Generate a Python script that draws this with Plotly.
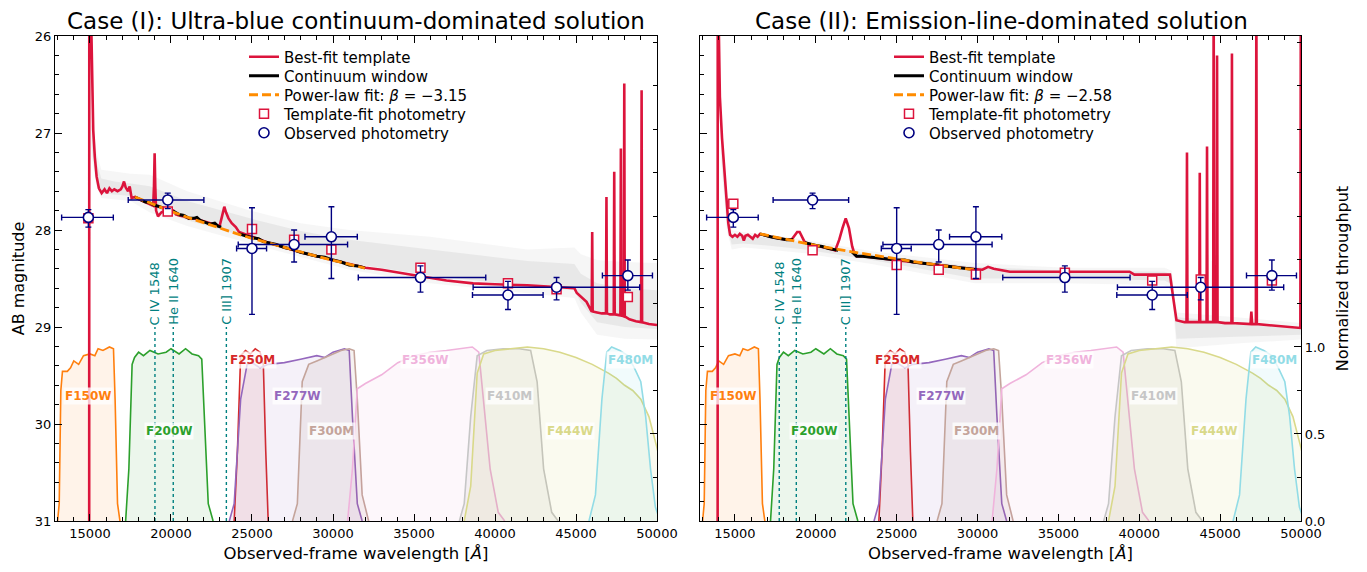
import plotly.graph_objects as go

FONT = "DejaVu Sans"
RED = "#dc143c"
NAVY = "#000080"
ORANGE = "#ff8c00"
TEAL = "#008080"

# ---------------- data ----------------
filters = ["F150W", "F200W", "F250M", "F277W", "F300M", "F356W", "F410M", "F444W", "F480M"]
filter_colors = ["#ff7f0e", "#2ca02c", "#d62728", "#9467bd", "#c4a49b",
                 "#f0b3dc", "#c6c6c6", "#d9d98a", "#92dce6"]
filter_fills = ["rgba(255,127,14,0.09)", "rgba(44,160,44,0.09)", "rgba(214,39,40,0.09)",
                "rgba(148,103,189,0.09)", "rgba(140,86,75,0.08)", "rgba(227,119,194,0.06)",
                "rgba(127,127,127,0.07)", "rgba(188,189,34,0.07)", "rgba(23,190,207,0.06)"]

f150w_wl = [13000, 13100, 13200, 13300, 13600, 13800, 14000, 14300, 14600, 15000, 15300, 15500, 15800, 16200, 16450, 16550, 16700, 16850]
f150w_t = [0.0, 0.1, 0.75, 0.86, 0.86, 0.88, 0.92, 0.90, 0.95, 0.96, 0.95, 0.99, 0.98, 1.0, 0.99, 0.7, 0.1, 0.0]
f200w_wl = [17200, 17400, 17600, 17750, 18000, 18300, 18700, 19200, 19700, 20000, 20500, 20900, 21300, 21700, 21900, 22050, 22300, 22600]
f200w_t = [0.0, 0.3, 0.9, 0.94, 0.97, 0.95, 0.98, 0.96, 0.97, 0.99, 0.96, 0.99, 0.96, 0.95, 0.93, 0.6, 0.1, 0.0]
f250m_wl = [23900, 24100, 24300, 24600, 24900, 25200, 25500, 25700, 25850, 26000]
f250m_t = [0.0, 0.4, 0.95, 0.98, 0.96, 0.99, 0.97, 0.9, 0.4, 0.0]
f277w_wl = [23600, 23900, 24300, 24700, 25000, 25500, 26000, 27000, 28000, 29000, 29500, 30000, 30700, 31000, 31200, 31500, 31800]
f277w_t = [0.0, 0.1, 0.7, 0.9, 0.91, 0.88, 0.9, 0.91, 0.93, 0.95, 0.94, 0.97, 0.99, 0.98, 0.6, 0.1, 0.0]
f300m_wl = [27500, 27800, 28100, 28500, 29000, 30000, 30500, 31000, 31300, 31500, 31800, 32200]
f300m_t = [0.0, 0.1, 0.8, 0.9, 0.92, 0.96, 0.98, 0.99, 0.98, 0.7, 0.15, 0.0]
f356w_wl = [30900, 31200, 31500, 32000, 33000, 34000, 35000, 36000, 37000, 38000, 38600, 39000, 39300, 39700, 40200, 40600]
f356w_t = [0.0, 0.3, 0.76, 0.79, 0.84, 0.91, 0.95, 0.97, 0.98, 0.99, 1.0, 0.97, 0.7, 0.3, 0.05, 0.0]
f410m_wl = [37800, 38100, 38500, 38900, 39500, 40500, 41500, 42200, 42600, 43000, 43500, 43900]
f410m_t = [0.0, 0.1, 0.6, 0.95, 0.98, 0.99, 0.99, 0.98, 0.8, 0.3, 0.05, 0.0]
f444w_wl = [38100, 38500, 38900, 39300, 40000, 41000, 42000, 43000, 44000, 45000, 46000, 47000, 47500, 48000, 48500, 49000, 49500, 50000, 50500, 51000]
f444w_t = [0.0, 0.2, 0.85, 0.96, 0.98, 0.99, 1.0, 0.99, 0.97, 0.94, 0.9, 0.85, 0.82, 0.78, 0.75, 0.7, 0.6, 0.42, 0.2, 0.0]
f480m_wl = [45800, 46200, 46600, 46900, 47200, 47700, 48200, 48600, 49000, 49300, 49600, 49900, 50200]
f480m_t = [0.0, 0.15, 0.7, 0.97, 1.0, 0.98, 0.95, 0.88, 0.8, 0.6, 0.3, 0.08, 0.0]
filter_wl = [f150w_wl, f200w_wl, f250m_wl, f277w_wl, f300m_wl, f356w_wl, f410m_wl, f444w_wl, f480m_wl]
filter_t = [f150w_t, f200w_t, f250m_t, f277w_t, f300m_t, f356w_t, f410m_t, f444w_t, f480m_t]

label_wl = [14880, 19870, 25060, 27770, 29930, 35670, 40910, 44620, 48380]
label_t = [0.72, 0.52, 0.925, 0.72, 0.52, 0.925, 0.72, 0.52, 0.925]

# emission lines (rest-frame) and redshifts of the two solutions
line_names = ["C IV 1548", "He II 1640", "C III] 1907"]
line_rest = [1548, 1640, 1907]
z_case = [11.28, 10.46]

# photometry (shared observed)
phot_wl = [14900, 19800, 25000, 27600, 29900, 35400, 40800, 43800, 48200]
phot_wl_lo = [13250, 17360, 24050, 24150, 28270, 31560, 38610, 38650, 46630]
phot_wl_hi = [16440, 22030, 25900, 30900, 31500, 39430, 42970, 48930, 49720]
obs_mag = [27.87, 27.69, 28.19, 28.15, 28.07, 28.49, 28.67, 28.59, 28.47]
obs_bright = [27.79, 27.62, 27.77, 28.00, 27.76, 28.37, 28.53, 28.49, 28.31]
obs_faint = [27.97, 27.78, 28.87, 28.33, 28.50, 28.64, 28.82, 28.72, 28.62]

tmpl_mag_1 = [27.88, 27.81, 27.99, 28.10, 28.20, 28.39, 28.55, 28.61, 28.69]
tmpl_mag_2 = [27.73, 28.21, 28.36, 28.41, 28.46, 28.44, 28.52, 28.51, 28.52]
tmpl_err = 0.04

beta = ["\u22123.15", "\u22122.58"]

# Case I best-fit template
spec1_wl = [14950, 14956, 15080, 15150, 15200, 15300, 15410, 15550, 15720, 15900, 16050, 16200, 16350, 16500,
            16700, 16900, 17000, 17100, 17200, 17350, 17450, 17570, 17780, 18100, 18400, 18700, 18900, 18950,
            18990, 19030, 19080, 19200, 19400, 19600, 19900, 20150, 20300, 20500, 20800, 21100, 21400, 21800,
            22200, 22600, 23000, 23150, 23290, 23400, 23550, 23750, 24000, 24200, 25000, 26000, 27000, 28000,
            29000, 30000, 31000, 32000, 33000, 34000, 35500, 37000, 38650, 40000, 42000, 44000, 44900, 45050,
            45400, 45650, 45900, 45970, 46000, 46030, 46300, 46600, 46850, 46880, 46910, 47100, 47330, 47360,
            47390, 47600, 47740, 47770, 47800, 47950, 47980, 48010, 48300, 48700, 49020, 49050, 49080, 49500, 50000]
spec1_mag = [32.0, 25.5, 25.9, 26.6, 26.97, 27.25, 27.45, 27.57, 27.62, 27.58, 27.62, 27.57, 27.60, 27.58,
             27.60, 27.58, 27.55, 27.50, 27.56, 27.60, 27.55, 27.67, 27.66, 27.69, 27.71, 27.73, 27.75, 27.55,
             27.21, 27.55, 27.80, 27.86, 27.82, 27.80, 27.82, 27.80, 27.84, 27.85, 27.86, 27.88, 27.88, 27.90,
             27.92, 27.94, 27.96, 27.86, 27.76, 27.82, 27.88, 27.93, 27.97, 28.02, 28.07, 28.13, 28.18, 28.23,
             28.27, 28.31, 28.35, 28.39, 28.41, 28.44, 28.48, 28.52, 28.55, 28.56, 28.57, 28.59, 28.60, 28.65,
             28.70, 28.74, 28.82, 28.84, 28.02, 28.84, 28.85, 28.86, 28.86, 27.66, 28.86, 28.87, 28.87, 27.40,
             28.87, 28.88, 28.88, 27.16, 28.88, 28.89, 26.49, 28.89, 28.92, 28.94, 28.95, 26.56, 28.95, 28.97, 28.98]

# Case II best-fit template
spec2_wl = [13930, 13936, 13990, 14070, 14200, 14380, 14590, 14700, 14850, 15000, 15150, 15300, 15450, 15550,
            15650, 15800, 15950, 16100, 16250, 16400, 16550, 16900, 17200, 17500, 17800, 18200, 18500, 18700,
            18850, 19000, 19150, 19330, 19700, 20000, 20400, 20800, 21200, 21450, 21650, 21850, 22050, 22250,
            22400, 22520, 22900, 23450, 24000, 25000, 26000, 27000, 28000, 29000, 29940, 30300, 30650, 31000,
            32000, 33000, 35000, 37000, 39400, 39700, 41900, 42100, 42300, 42800, 42920, 42950, 42980, 43400,
            43710, 43740, 43770, 44160, 44190, 44220, 44570, 44600, 44630, 44780, 44810, 44840, 45300, 45700,
            45730, 45760, 46500, 46880, 46930, 46980, 47210, 47240, 47270, 48000, 49000, 49960, 49990, 50020]
spec2_mag = [32.0, 25.5, 25.8, 26.63, 27.05, 27.48, 27.93, 28.05, 28.07, 28.05, 28.07, 28.04, 28.06, 28.11,
             28.06, 28.05, 28.07, 28.09, 28.05, 28.07, 28.04, 28.06, 28.07, 28.08, 28.09, 28.10, 28.10, 28.06,
             28.02, 28.02, 28.07, 28.13, 28.15, 28.16, 28.17, 28.19, 28.21, 28.10, 27.98, 27.88, 27.98, 28.17,
             28.25, 28.27, 28.27, 28.28, 28.29, 28.31, 28.33, 28.35, 28.37, 28.39, 28.41, 28.41, 28.38, 28.40,
             28.43, 28.43, 28.43, 28.43, 28.43, 28.46, 28.46, 28.70, 28.93, 28.95, 28.95, 27.20, 28.95, 28.95,
             28.95, 27.41, 28.95, 28.95, 27.14, 28.95, 28.95, 25.5, 28.95, 28.95, 26.20, 28.95, 28.96, 28.96,
             26.18, 28.96, 28.97, 28.97, 28.84, 28.97, 28.97, 25.5, 28.97, 28.98, 29.00, 29.01, 25.5, 29.01]

# continuum windows (None = masked line region)
cont1_wl = [17780, 18100, 18400, 18700, 19000, 19300, 19600, 19900, 20200, 20500, 20800, 21100, 21400, 21600,
            21800, 22100, 22400, 22700, 22900, 23100, None, 24200, 24600, 25000, 25400, 25700, 26000, 26500,
            27000, 27500, 28000, 28500, 29000, 29500, 30000, 30500, 31000, 31500, 31970]
cont1_mag = [27.66, 27.69, 27.71, 27.72, 27.745, 27.76, 27.78, 27.80, 27.81, 27.84, 27.85, 27.88, 27.88, 27.87,
             27.90, 27.92, 27.94, 27.93, 27.96, 27.97, None, 28.04, 28.06, 28.08, 28.09, 28.12, 28.13, 28.15,
             28.18, 28.20, 28.23, 28.25, 28.27, 28.28, 28.31, 28.33, 28.36, 28.37, 28.39]
cont2_wl = [16550, 16900, 17200, 17500, 17800, 18200, 18590, None, 19330, 19700, 20000, 20400, 20800, 21380,
            None, 22210, 22400, 22520, 22900, 23450, 24000, 24500, 25000, 25500, 26000, 26500, 27000, 27500,
            28000, 28500, 29000, 29500, 29940]
cont2_mag = [28.04, 28.06, 28.07, 28.08, 28.09, 28.10, 28.10, None, 28.13, 28.15, 28.16, 28.17, 28.19, 28.21,
             None, 28.22, 28.25, 28.27, 28.27, 28.28, 28.29, 28.30, 28.31, 28.31, 28.33, 28.34, 28.35, 28.36,
             28.37, 28.38, 28.39, 28.40, 28.41]

# power-law fits
pl1_wl = [17780, 19000, 20000, 21000, 22000, 23000, 24000, 25000, 26000, 27000, 28000, 29000, 30000, 31000, 31970]
pl1_mag = [27.66, 27.743, 27.807, 27.868, 27.926, 27.981, 28.035, 28.086, 28.134, 28.182, 28.227, 28.271, 28.313, 28.354, 28.393]
pl2_wl = [16550, 18000, 20000, 22000, 24000, 26000, 28000, 29940]
pl2_mag = [28.04, 28.093, 28.159, 28.219, 28.274, 28.324, 28.371, 28.413]

# grey posterior fan (outer / inner envelopes)
fan1_wl = [15100, 15400, 15700, 16500, 17500, 18700, 21000, 24870, 28000, 31000, 36000, 42000, 44900, 45300, 46300, 48000, 50000]
fan1_out_b = [26.8, 27.2, 27.38, 27.40, 27.42, 27.43, 27.60, 27.80, 27.93, 28.00, 28.07, 28.20, 28.18, 28.25, 28.31, 28.33, 28.34]
fan1_out_f = [27.25, 27.55, 27.67, 27.68, 27.70, 27.82, 27.96, 28.14, 28.28, 28.41, 28.55, 28.65, 28.70, 28.85, 29.08, 29.12, 29.13]
fan1_in_b = [26.9, 27.3, 27.47, 27.50, 27.52, 27.55, 27.70, 27.88, 28.01, 28.10, 28.20, 28.32, 28.35, 28.45, 28.55, 28.60, 28.62]
fan1_in_f = [27.15, 27.5, 27.62, 27.63, 27.65, 27.75, 27.90, 28.08, 28.22, 28.34, 28.47, 28.58, 28.62, 28.75, 28.95, 29.0, 29.02]
fan2_wl = [14150, 14500, 14800, 15500, 17000, 19330, 23450, 29850, 35460, 41570, 42000, 42300, 46000, 50000]
fan2_out_b = [26.9, 27.7, 28.0, 28.02, 28.05, 28.10, 28.22, 28.34, 28.39, 28.39, 28.42, 28.85, 28.90, 28.96]
fan2_out_f = [27.3, 28.0, 28.2, 28.18, 28.20, 28.24, 28.35, 28.55, 28.55, 28.57, 28.62, 29.22, 29.17, 29.13]
fan2_in_b = [27.0, 27.8, 28.05, 28.05, 28.08, 28.13, 28.25, 28.38, 28.42, 28.43, 28.46, 28.90, 28.95, 29.0]
fan2_in_f = [27.2, 27.95, 28.15, 28.14, 28.16, 28.2, 28.31, 28.5, 28.5, 28.52, 28.56, 29.12, 29.1, 29.08]

titles = ["Case (I): Ultra-blue continuum-dominated solution", "Case (II): Emission-line-dominated solution"]

# ---------------- figure ----------------
W, H = 1367, 572
OFF = 8  # page body margin compensation (px)


def px(xp):
    return (xp - OFF) / W


def py(yp):
    return 1 - (yp - OFF) / H


fig = go.Figure()

legend_rows = [57, 76, 95, 114, 133]
legend_text_x = [284, 929]

panels = [
    dict(x="x", thr="y", mag="y3", spec=(spec1_wl, spec1_mag), cont=(cont1_wl, cont1_mag),
         pl=(pl1_wl, pl1_mag), fan=(fan1_wl, fan1_out_b, fan1_out_f, fan1_in_b, fan1_in_f), tmpl=tmpl_mag_1,
         z=z_case[0], beta=beta[0]),
    dict(x="x2", thr="y2", mag="y4", spec=(spec2_wl, spec2_mag), cont=(cont2_wl, cont2_mag),
         pl=(pl2_wl, pl2_mag), fan=(fan2_wl, fan2_out_b, fan2_out_f, fan2_in_b, fan2_in_f), tmpl=tmpl_mag_2,
         z=z_case[1], beta=beta[1]),
]

legend_layout = {}
for k, p in enumerate(panels):
    xa, ya, ma = p["x"], p["thr"], p["mag"]
    lgs = []
    for r in range(5):
        idx = k * 5 + r + 1
        name = "legend" if idx == 1 else "legend%d" % idx
        lgs.append(name)
        legend_layout[name] = dict(x=px(legend_text_x[k] - 40), y=py(legend_rows[r]), xanchor="left",
                                   yanchor="middle", bgcolor="rgba(0,0,0,0)", borderwidth=0,
                                   font=dict(family=FONT, size=15, color="black"))
    # filter curves on throughput axis
    for i in range(len(filters)):
        fig.add_trace(go.Scatter(x=filter_wl[i], y=filter_t[i], xaxis=xa, yaxis=ya, mode="lines",
                                 line=dict(color=filter_colors[i], width=1.6), fill="tozeroy",
                                 fillcolor=filter_fills[i], showlegend=False, hoverinfo="skip"))
    # fan
    fw, ob, of, ib, inf = p["fan"]
    for b, f, col in [(ob, of, "rgba(185,185,185,0.13)"), (ib, inf, "rgba(160,160,160,0.16)")]:
        fig.add_trace(go.Scatter(x=fw, y=b, xaxis=xa, yaxis=ma, mode="lines", line=dict(width=0),
                                 showlegend=False, hoverinfo="skip"))
        fig.add_trace(go.Scatter(x=fw, y=f, xaxis=xa, yaxis=ma, mode="lines", line=dict(width=0),
                                 fill="tonexty", fillcolor=col, showlegend=False, hoverinfo="skip"))
    # emission line markers
    for nm, rest in zip(line_names, line_rest):
        lam = rest * (1 + p["z"])
        fig.add_trace(go.Scatter(x=[lam, lam], y=[31, 29.0], xaxis=xa, yaxis=ma, mode="lines",
                                 line=dict(color=TEAL, width=1.4, dash="dot"), showlegend=False, hoverinfo="skip"))
    # best-fit spectrum
    sw, sm = p["spec"]
    fig.add_trace(go.Scatter(x=sw, y=sm, xaxis=xa, yaxis=ma, mode="lines", name="Best-fit template",
                             line=dict(color=RED, width=2.6), legend=lgs[0]))
    cw, cm = p["cont"]
    fig.add_trace(go.Scatter(x=cw, y=cm, xaxis=xa, yaxis=ma, mode="lines", name="Continuum window",
                             line=dict(color="black", width=3), legend=lgs[1], connectgaps=False))
    pw, pm = p["pl"]
    fig.add_trace(go.Scatter(x=pw, y=pm, xaxis=xa, yaxis=ma, mode="lines",
                             name="Power-law fit: <i>β</i> = " + p["beta"],
                             line=dict(color=ORANGE, width=2.8, dash="9px,4px"), legend=lgs[2]))
    # template-fit photometry
    fig.add_trace(go.Scatter(x=phot_wl, y=p["tmpl"], xaxis=xa, yaxis=ma, mode="markers",
                             name="Template-fit photometry",
                             marker=dict(symbol="square", size=9, color="white", line=dict(color=RED, width=1.5)),
                             error_y=dict(type="constant", value=tmpl_err, color=RED, thickness=1.3, width=3),
                             legend=lgs[3]))
    # observed photometry
    fig.add_trace(go.Scatter(x=phot_wl, y=obs_mag, xaxis=xa, yaxis=ma, mode="markers",
                             name="Observed photometry",
                             marker=dict(symbol="circle", size=10, color="white", line=dict(color=NAVY, width=1.6)),
                             error_x=dict(type="data", symmetric=False,
                                          array=[h - w for h, w in zip(phot_wl_hi, phot_wl)],
                                          arrayminus=[w - l for l, w in zip(phot_wl_lo, phot_wl)],
                                          color=NAVY, thickness=1.4, width=3),
                             error_y=dict(type="data", symmetric=False,
                                          array=[f - m for f, m in zip(obs_faint, obs_mag)],
                                          arrayminus=[m - b for b, m in zip(obs_bright, obs_mag)],
                                          color=NAVY, thickness=1.4, width=3),
                             legend=lgs[4]))
    # filter labels
    for i, f in enumerate(filters):
        fig.add_annotation(x=label_wl[i], y=label_t[i], xref=xa, yref=ya, text="<b>" + f + "</b>",
                           showarrow=False, font=dict(family=FONT, size=12, color=filter_colors[i]),
                           bgcolor="rgba(255,255,255,0.75)", borderpad=1)
    # emission line labels
    for nm, rest in zip(line_names, line_rest):
        lam = rest * (1 + p["z"])
        fig.add_annotation(x=lam, y=29.0, xref=xa, yref=ma, text=nm, textangle=-90, showarrow=False,
                           yanchor="bottom", xanchor="center", font=dict(family=FONT, size=13, color=TEAL))

# titles
for cx, t in zip([356, 1001], titles):
    fig.add_annotation(x=px(cx), y=py(21), xref="paper", yref="paper", text=t, showarrow=False,
                       font=dict(family=FONT, size=23, color="black"), xanchor="center", yanchor="middle")

ydom = [py(521), py(36)]
xdoms = [[px(55), px(657)], [px(700), px(1301)]]

xcommon = dict(range=[12840, 50000], tickvals=[15000, 20000, 25000, 30000, 35000, 40000, 45000, 50000],
               tickformat="d", automargin=False,
               ticks="inside", ticklen=7, tickwidth=1, tickcolor="black", showline=True, linecolor="black",
               linewidth=1.2, mirror="ticks", showgrid=False, zeroline=False,
               minor=dict(dtick=1000, tick0=0, ticks="inside", ticklen=4, tickcolor="black", showgrid=False),
               tickfont=dict(family=FONT, size=13, color="black"),
               title=dict(text="Observed-frame wavelength [<i>Å</i>]", font=dict(family=FONT, size=16.5, color="black"),
                          standoff=7))
thrcommon = dict(domain=ydom, range=[0, 2.787], side="right", tickvals=[0, 0.5, 1.0], ticktext=["0.0", "0.5", "1.0"],
                 automargin=False,
                 ticks="inside", ticklen=7, tickwidth=1, tickcolor="black", showline=True, linecolor="black",
                 linewidth=1.2, showgrid=False, zeroline=False,
                 minor=dict(dtick=0.25, tick0=0, ticks="inside", ticklen=4, tickcolor="black", showgrid=False),
                 tickfont=dict(family=FONT, size=13, color="black"))
magcommon = dict(range=[31, 26], tickvals=[26, 27, 28, 29, 30, 31], side="left", automargin=False,
                 ticks="inside", ticklen=7, tickwidth=1, tickcolor="black", showline=True, linecolor="black",
                 linewidth=1.2, showgrid=False, zeroline=False,
                 minor=dict(dtick=0.2, tick0=26, ticks="inside", ticklen=4, tickcolor="black", showgrid=False),
                 tickfont=dict(family=FONT, size=13, color="black"))

fig.update_layout(
    width=W, height=H, margin=dict(l=0, r=0, t=0, b=0, autoexpand=False),
    paper_bgcolor="white", plot_bgcolor="white",
    font=dict(family=FONT, size=12, color="black"),
    xaxis=dict(domain=xdoms[0], anchor="y", **xcommon),
    xaxis2=dict(domain=xdoms[1], anchor="y2", **xcommon),
    yaxis=dict(anchor="x", showticklabels=False, **thrcommon),
    yaxis2=dict(anchor="x2", showticklabels=True,
                title=dict(text="Normalized throughput", font=dict(family=FONT, size=16, color="black"), standoff=12),
                **thrcommon),
    yaxis3=dict(overlaying="y", anchor="x", showticklabels=True,
                title=dict(text="AB magnitude", font=dict(family=FONT, size=16, color="black"), standoff=6),
                **magcommon),
    yaxis4=dict(overlaying="y2", anchor="x2", showticklabels=False, **magcommon),
    showlegend=True,
    **legend_layout,
)

fig.write_html("out.html")
